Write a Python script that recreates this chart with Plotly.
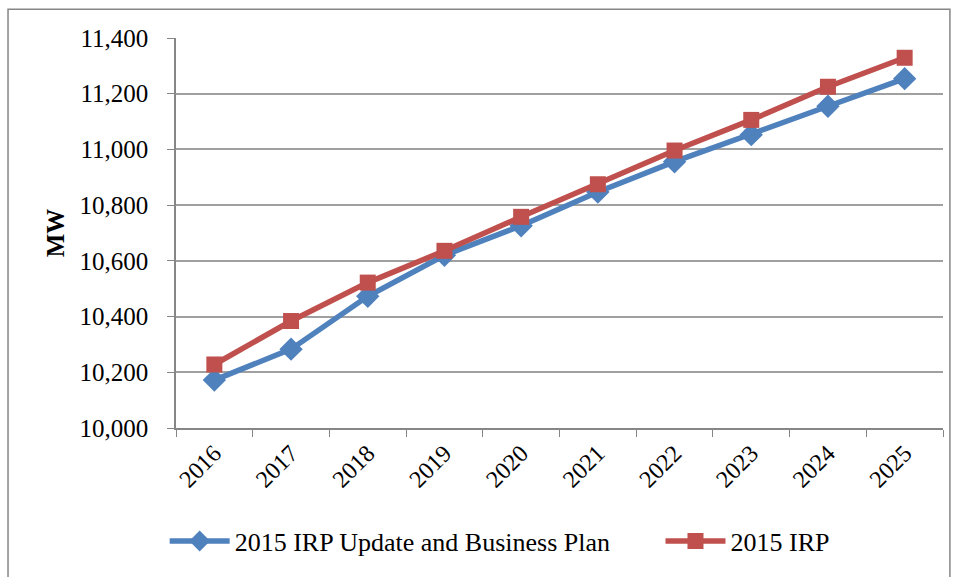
import plotly.graph_objects as go

years = ["2016", "2017", "2018", "2019", "2020", "2021", "2022", "2023", "2024", "2025"]
update_plan = [10172, 10283, 10473, 10620, 10726, 10847, 10956, 11053, 11155, 11254]
irp_2015 = [10228, 10384, 10522, 10636, 10758, 10875, 10996, 11106, 11225, 11329]
y_ticks = [10000, 10200, 10400, 10600, 10800, 11000, 11200, 11400]
y_tick_text = ["10,000", "10,200", "10,400", "10,600", "10,800", "11,000", "11,200", "11,400"]

font_family = "Liberation Serif, Times New Roman, serif"

fig = go.Figure()
fig.add_trace(go.Scatter(
    x=years, y=update_plan, mode="lines+markers",
    name="2015 IRP Update and Business Plan" + "\u00a0" * 7,
    line=dict(color="#4F81BD", width=5.5),
    marker=dict(symbol="diamond", size=18, color="#4F81BD"),
))
fig.add_trace(go.Scatter(
    x=years, y=irp_2015, mode="lines+markers",
    name="2015 IRP",
    line=dict(color="#C0504D", width=5.5),
    marker=dict(symbol="square", size=16, color="#C0504D"),
))

fig.update_layout(
    width=959, height=577,
    margin=dict(l=176, r=16, t=38, b=145),
    paper_bgcolor="white", plot_bgcolor="white",
    font=dict(family=font_family, size=25, color="black"),
    showlegend=True,
    legend=dict(orientation="h", x=0.422, xanchor="center", y=-0.29, yanchor="middle",
                font=dict(size=26), itemwidth=60, traceorder="normal"),
    xaxis=dict(
        type="category", tickangle=-45, showgrid=False, range=[-0.5, 9.5],
        showline=True, linecolor="#868686", linewidth=1.5,
        ticks="outside", tickson="boundaries", ticklen=7, tickcolor="#868686",
        tickfont=dict(size=24),
    ),
    yaxis=dict(
        range=[10000, 11400], tickvals=y_ticks, ticktext=y_tick_text,
        showgrid=True, gridcolor="#A0A0A0", gridwidth=1.5,
        showline=True, linecolor="#868686", linewidth=1.5,
        ticks="outside", ticklen=7, tickcolor="#868686",
        tickfont=dict(size=25), zeroline=False, ticklabelstandoff=14,
        title=dict(text="<b>MW</b>", font=dict(size=25), standoff=8),
    ),
    shapes=[dict(type="rect", xref="paper", yref="paper",
                 x0=-0.219, x1=1.009, y0=-0.45, y1=1.0736,
                 line=dict(color="#868686", width=1.5), fillcolor="rgba(0,0,0,0)", layer="below")],
)

fig.write_html("out.html", config={"displayModeBar": False},
               post_script="document.body.style.margin='0';document.body.style.overflow='hidden';")
